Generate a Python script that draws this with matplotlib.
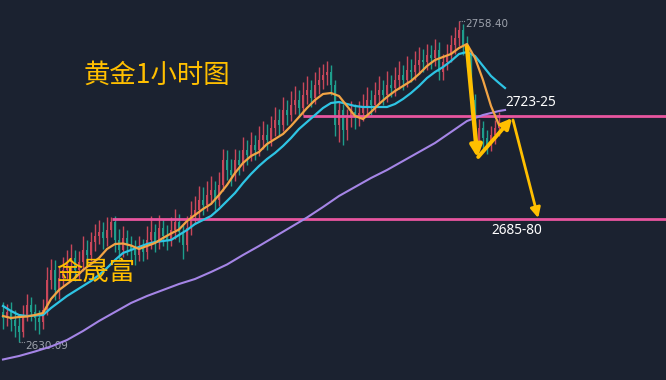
import matplotlib
matplotlib.use("Agg")
import matplotlib.pyplot as plt
import numpy as np

# ---------------- data ----------------
opens = [2642.0, 2639.8, 2642.2, 2639.0, 2636.6, 2634.2, 2641.0, 2645.0, 2642.2, 2639.8,
         2638.2, 2643.0, 2655.0, 2659.0, 2651.0, 2655.8, 2659.0, 2662.2, 2663.8, 2659.0,
         2662.2, 2667.0, 2665.0, 2670.2, 2672.6, 2674.2, 2671.8, 2675.0, 2678.2, 2671.0,
         2667.0, 2671.8, 2669.0, 2667.0, 2665.0, 2667.8, 2666.2, 2671.0, 2674.2, 2670.2,
         2675.8, 2672.6, 2671.0, 2675.0, 2678.2, 2674.2, 2669.0, 2675.8, 2681.0, 2683.0,
         2687.0, 2685.0, 2689.0, 2691.0, 2687.0, 2693.0, 2703.0, 2699.0, 2697.0, 2703.0,
         2701.0, 2707.0, 2705.0, 2709.0, 2707.0, 2711.0, 2713.0, 2711.0, 2715.8, 2719.0,
         2717.0, 2723.0, 2721.0, 2725.0, 2727.0, 2723.8, 2729.0, 2731.0, 2727.8, 2733.0,
         2735.0, 2737.0, 2738.2, 2733.0, 2717.0, 2723.0, 2715.0, 2719.8, 2722.2, 2719.8,
         2721.8, 2723.8, 2727.0, 2725.0, 2729.0, 2731.0, 2729.0, 2733.0, 2731.8, 2735.0,
         2737.0, 2735.0, 2739.0, 2738.2, 2741.0, 2743.0, 2742.2, 2745.0, 2743.8, 2747.0,
         2738.0, 2742.0, 2745.0, 2749.0, 2751.8, 2755.0, 2749.0, 2745.0, 2727.0, 2710.2,
         2715.8, 2711.8, 2709.0, 2713.0, 2715.8]
closes = [2639.8, 2642.2, 2639.0, 2636.6, 2634.2, 2641.0, 2645.0, 2642.2, 2639.8, 2638.2,
          2643.0, 2655.0, 2659.0, 2651.0, 2655.8, 2659.0, 2662.2, 2663.8, 2659.0, 2662.2,
          2667.0, 2665.0, 2670.2, 2672.6, 2674.2, 2671.8, 2675.0, 2678.2, 2671.0, 2667.0,
          2671.8, 2669.0, 2667.0, 2665.0, 2667.8, 2666.2, 2671.0, 2674.2, 2670.2, 2675.8,
          2672.6, 2671.0, 2675.0, 2678.2, 2674.2, 2669.0, 2675.8, 2681.0, 2683.0, 2687.0,
          2685.0, 2689.0, 2691.0, 2687.0, 2693.0, 2703.0, 2699.0, 2697.0, 2703.0, 2701.0,
          2707.0, 2705.0, 2709.0, 2707.0, 2711.0, 2713.0, 2711.0, 2715.8, 2719.0, 2717.0,
          2723.0, 2721.0, 2725.0, 2727.0, 2723.8, 2729.0, 2731.0, 2727.8, 2733.0, 2735.0,
          2737.0, 2738.2, 2733.0, 2717.0, 2723.0, 2715.0, 2719.8, 2722.2, 2719.8, 2721.8,
          2723.8, 2727.0, 2725.0, 2729.0, 2731.0, 2729.0, 2733.0, 2731.8, 2735.0, 2737.0,
          2735.0, 2739.0, 2738.2, 2741.0, 2743.0, 2742.2, 2745.0, 2743.8, 2747.0, 2738.0,
          2742.0, 2745.0, 2749.0, 2751.8, 2755.0, 2749.0, 2745.0, 2727.0, 2710.2, 2715.8,
          2711.8, 2709.0, 2713.0, 2715.8, 2718.2]
highs = [2646.0, 2645.5, 2646.0, 2643.0, 2640.5, 2645.0, 2649.5, 2648.0, 2645.5, 2643.0,
         2647.5, 2660.0, 2663.5, 2663.0, 2660.0, 2664.0, 2667.0, 2669.5, 2667.0, 2666.5,
         2672.5, 2671.0, 2674.0, 2677.5, 2679.0, 2678.0, 2680.0, 2680.0, 2680.5, 2675.5,
         2676.5, 2675.0, 2672.5, 2671.0, 2672.5, 2671.5, 2676.5, 2680.5, 2677.5, 2681.0,
         2679.5, 2677.0, 2680.0, 2683.5, 2681.5, 2677.0, 2680.5, 2686.5, 2688.5, 2692.5,
         2692.0, 2694.5, 2696.5, 2694.5, 2698.0, 2707.5, 2707.0, 2703.5, 2707.5, 2707.0,
         2712.0, 2711.0, 2714.0, 2713.0, 2716.5, 2718.5, 2717.5, 2720.5, 2724.0, 2723.5,
         2728.0, 2727.0, 2730.5, 2732.5, 2731.0, 2734.0, 2736.5, 2735.0, 2738.0, 2740.0,
         2741.5, 2742.5, 2741.0, 2735.0, 2726.5, 2725.5, 2723.5, 2726.5, 2725.5, 2726.5,
         2729.5, 2732.0, 2731.0, 2734.0, 2736.5, 2735.0, 2738.5, 2737.0, 2740.0, 2742.5,
         2741.0, 2744.5, 2743.5, 2746.5, 2748.0, 2747.5, 2749.5, 2749.0, 2751.5, 2750.0,
         2745.5, 2749.5, 2753.0, 2756.0, 2758.4, 2757.5, 2752.5, 2747.0, 2729.5, 2719.5,
         2718.5, 2715.0, 2716.5, 2719.0, 2722.0]
lows = [2635.5, 2636.5, 2634.5, 2632.0, 2630.09, 2632.0, 2638.5, 2638.5, 2635.0, 2633.5,
        2635.5, 2641.0, 2651.5, 2647.0, 2647.5, 2652.5, 2655.5, 2658.0, 2654.5, 2655.5,
        2658.5, 2661.0, 2662.5, 2666.5, 2669.5, 2667.5, 2668.5, 2672.0, 2666.0, 2663.0,
        2664.0, 2665.0, 2663.0, 2661.0, 2662.5, 2662.5, 2663.5, 2667.5, 2666.0, 2667.5,
        2668.5, 2667.0, 2668.5, 2671.5, 2670.0, 2663.5, 2666.5, 2673.0, 2677.5, 2679.5,
        2681.0, 2682.5, 2685.5, 2683.0, 2684.5, 2690.5, 2695.0, 2692.5, 2694.5, 2697.0,
        2698.5, 2701.0, 2702.5, 2703.0, 2704.5, 2707.5, 2707.0, 2708.5, 2712.5, 2713.0,
        2714.5, 2717.0, 2718.5, 2721.5, 2720.0, 2721.0, 2725.5, 2724.0, 2725.5, 2729.5,
        2731.5, 2733.0, 2729.0, 2712.5, 2710.0, 2709.0, 2711.0, 2716.0, 2715.5, 2716.5,
        2718.5, 2720.5, 2721.0, 2722.0, 2725.5, 2725.0, 2726.0, 2728.0, 2728.5, 2731.5,
        2731.0, 2732.0, 2734.0, 2735.0, 2737.5, 2738.0, 2739.0, 2739.5, 2740.5, 2735.0,
        2735.0, 2739.0, 2742.0, 2745.5, 2748.5, 2745.0, 2740.0, 2722.0, 2706.5, 2706.5,
        2707.5, 2705.5, 2706.5, 2709.5, 2712.5]

# short moving average (orange), sampled every 2 bars
ma_short = [2640.6, 2639.8, 2640.2, 2640.4, 2641.0, 2641.8, 2647.4, 2651.0, 2653.4, 2655.8,
            2659.0, 2661.4, 2663.8, 2667.4, 2669.4, 2669.6, 2668.8, 2667.4, 2668.6, 2669.8,
            2671.8, 2673.6, 2675.2, 2678.6, 2681.0, 2683.4, 2685.4, 2689.0, 2693.0, 2697.8,
            2701.8, 2704.6, 2706.2, 2709.4, 2711.4, 2713.4, 2716.6, 2720.2, 2723.8, 2727.0,
            2729.4, 2729.8, 2728.6, 2724.6, 2720.6, 2719.4, 2722.2, 2725.4, 2728.2, 2730.6,
            2732.6, 2734.6, 2737.4, 2740.6, 2743.0, 2744.2, 2745.4, 2747.8, 2749.4, 2743.8,
            2735.0, 2724.6, 2717.0]
# medium moving average (cyan), sampled every 2 bars (last point one bar past the end)
ma_mid = [2644.6, 2642.6, 2641.0, 2640.6, 2640.8, 2641.0, 2643.8, 2646.2, 2648.6, 2650.6,
          2652.6, 2654.6, 2657.0, 2659.8, 2663.0, 2665.8, 2667.0, 2668.2, 2669.4, 2670.2,
          2670.6, 2671.0, 2673.0, 2675.0, 2677.4, 2679.0, 2680.6, 2683.4, 2686.6, 2689.8,
          2693.8, 2697.4, 2700.6, 2703.4, 2705.8, 2708.6, 2711.8, 2715.4, 2718.2, 2721.0,
          2723.8, 2725.8, 2726.2, 2725.4, 2724.6, 2724.2, 2724.2, 2724.2, 2724.2, 2725.4,
          2727.4, 2729.8, 2732.6, 2735.8, 2738.2, 2740.2, 2742.6, 2745.4, 2746.2, 2744.6,
          2740.6, 2736.6, 2733.8, 2731.8]
# long moving average (purple), sampled every 4 bars (last point one bar past the end)
ma_long = [2623.2, 2624.6, 2626.4, 2628.4, 2631.0, 2634.6, 2638.6, 2642.2, 2645.8, 2648.6,
           2651.0, 2653.4, 2655.4, 2658.2, 2661.2, 2665.0, 2668.6, 2672.4, 2676.2, 2680.0,
           2684.2, 2688.6, 2692.2, 2695.8, 2699.0, 2702.6, 2706.2, 2709.8, 2714.2, 2718.6,
           2721.0, 2722.6, 2723.0]

level_upper = 2720.6
level_lower = 2679.4
label_upper = "2723-25"
label_lower = "2685-80"
title_text = "黄金1小时图"
brand_text = "金晟富"

# ---------------- style ----------------
BG = "#1b2230"
UP = "#c9475a"
DOWN = "#1e9e8c"
ORANGE = "#f2a445"
CYAN = "#2ec4e4"
PURPLE = "#a585e6"
PINK = "#e8559f"
GOLD = "#ffbf00"

plt.rcParams['font.family'] = ['Noto Sans CJK SC', 'DejaVu Sans']

fig = plt.figure(figsize=(6.66, 3.80), dpi=100, facecolor=BG)
ax = fig.add_axes([0, 0, 1, 1])
ax.set_facecolor(BG)
ax.set_xlim(-0.75, 165.75)
ax.set_ylim(2615.0, 2767.0)
ax.axis('off')

n = len(closes)
idx = np.arange(n)
o = np.array(opens); c = np.array(closes); h = np.array(highs); l = np.array(lows)
up = c >= o
colors = np.where(up, UP, DOWN)

ax.vlines(idx, l, h, colors=colors, lw=1.0, zorder=2)
body = np.where(np.abs(c - o) < 0.4, 0.4, c - o)
ax.bar(idx, body, bottom=o, width=0.6, color=colors, lw=0, zorder=2)

# horizontal levels
ax.hlines(level_upper, 75, 170, colors=PINK, lw=2.0, zorder=3)
ax.hlines(level_lower, 27.25, 170, colors=PINK, lw=2.0, zorder=3)

# moving averages
x_short = np.arange(0, 2 * len(ma_short), 2)
x_mid = np.append(np.arange(0, 2 * (len(ma_mid) - 1), 2), 125.5)
x_long = np.append(np.arange(0, 4 * (len(ma_long) - 1), 4), 125.5)
ax.plot(x_long, ma_long, color=PURPLE, lw=1.5, zorder=4)
ax.plot(x_mid, ma_mid, color=CYAN, lw=1.6, zorder=4)
ax.plot(x_short, ma_short, color=ORANGE, lw=1.6, zorder=5)

# extreme labels
imax = int(np.argmax(h)); imin = int(np.argmin(l))
ax.plot([imax, imax + 1.5], [h[imax], h[imax]], color="#8a8f99", lw=0.8, ls=(0, (1, 1)), zorder=6)
ax.annotate(f"{h[imax]:.2f}", xy=(imax + 1.6, h[imax]), xytext=(0, -2), textcoords='offset points',
            color="#9ea3ad", fontsize=7.5, va='center', ha='left', family='DejaVu Sans')
ax.plot([imin, imin + 1.5], [l[imin], l[imin]], color="#8a8f99", lw=0.8, ls=(0, (1, 1)), zorder=6)
ax.annotate(f"{l[imin]:.2f}", xy=(imin + 1.6, l[imin]), xytext=(0, -3), textcoords='offset points',
            color="#9ea3ad", fontsize=7.5, va='center', ha='left', family='DejaVu Sans')

# arrows
def arrow(p0, p1, lw, ms):
    ax.annotate("", xy=p1, xytext=p0,
                arrowprops=dict(arrowstyle='-|>', color=GOLD, lw=lw, mutation_scale=ms,
                                shrinkA=0, shrinkB=0), zorder=7)

arrow((116.0, 2748.2), (118.6, 2704.0), 3.2, 17)
arrow((118.8, 2704.2), (127.3, 2719.8), 2.8, 15)
arrow((127.5, 2719.0), (133.8, 2679.8), 2.0, 15)

# texts
def ptext(x, y, s, **kw):
    ax.text(x / 666, 1 - y / 380, s, transform=ax.transAxes, **kw)

ptext(84, 75, title_text, color=GOLD, fontsize=19, va='center', ha='left', zorder=8)
ptext(56, 272, brand_text, color=GOLD, fontsize=19, va='center', ha='left', zorder=8)
ptext(505, 102, label_upper, color="white", fontsize=9.8, va='center', ha='left',
      family=['Noto Sans', 'DejaVu Sans'], zorder=8)
ptext(491, 230, label_lower, color="white", fontsize=9.8, va='center', ha='left',
      family=['Noto Sans', 'DejaVu Sans'], zorder=8)

fig.savefig("out.png", dpi=100, facecolor=BG)
